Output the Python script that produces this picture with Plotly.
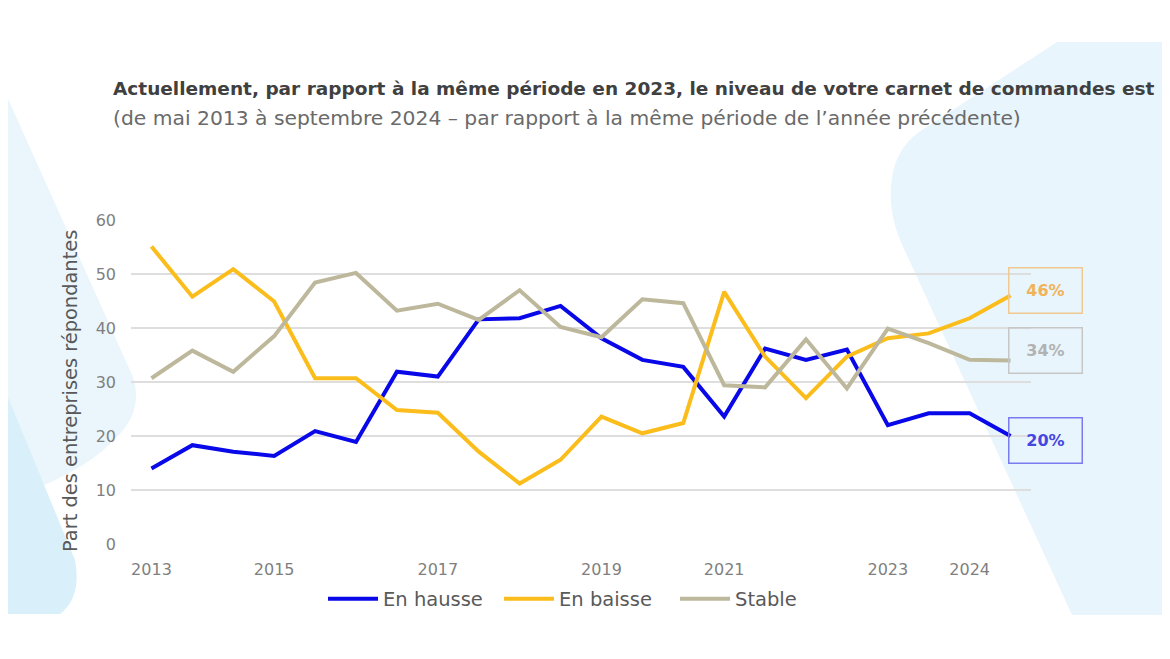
import plotly.graph_objects as go

# ---- data ----
waves = [f"V{i:02d}" for i in range(1, 23)]
tick_waves = ["V01", "V04", "V08", "V12", "V15", "V19", "V21"]
tick_years = ["2013", "2015", "2017", "2019", "2021", "2023", "2024"]

en_hausse = [14.0, 18.3, 17.1, 16.3, 20.9, 18.9, 31.9, 31.0, 41.6, 41.8, 44.1,
             38.1, 34.1, 32.8, 23.6, 36.2, 34.1, 36.0, 22.0, 24.2, 24.2, 20.0]
en_baisse = [55.1, 45.8, 50.9, 44.9, 30.7, 30.7, 24.8, 24.3, 17.1, 11.2, 15.6,
             23.6, 20.5, 22.4, 46.7, 34.7, 27.0, 34.7, 38.1, 39.0, 41.8, 46.0]
stable = [30.7, 35.8, 31.9, 38.5, 48.4, 50.2, 43.2, 44.5, 41.5, 47.0, 40.2,
          38.3, 45.3, 44.6, 29.4, 29.0, 37.9, 28.8, 39.9, 37.2, 34.1, 34.0]

series = [
    ("En hausse", en_hausse, "#0808e8", "#4646e0", "#7b7bf0", -4),
    ("En baisse", en_baisse, "#fbbd1c", "#f0b35a", "#efc98f", 5),
    ("Stable", stable, "#bdb89c", "#b2b2b2", "#c6c6c6", 10),
]

FONT = "DejaVu Sans"

# page offset (body margin) and plot-area geometry in screen pixels
OFF = 8
W, H = 1170 - OFF, 659 - OFF
L, R, T, B = 131, 1031, 220, 544


def px(x):
    return (x - L) / (R - L)


def py(y):
    return (B - y) / (B - T)


def path(points_cmds):
    out = []
    for cmd, pts in points_cmds:
        coords = " ".join(f"{px(a):.5f},{py(b):.5f}" for a, b in pts)
        out.append(f"{cmd} {coords}")
    return " ".join(out) + " Z"


fig = go.Figure()

for name, vals, col, _, _, _ in series:
    fig.add_trace(go.Scatter(
        x=waves, y=vals, name=name, mode="lines",
        line=dict(color=col, width=4),
        hoverinfo="skip",
    ))

# background decorations
shapes = [
    dict(type="path", xref="paper", yref="paper", layer="below",
         path=path([("M", [(5, 92)]), ("L", [(133, 377)]),
                    ("Q", [(145, 412), (112, 442)]),
                    ("Q", [(80, 475), (5, 500)])]),
         fillcolor="#eaf6fc", line=dict(width=0)),
    dict(type="path", xref="paper", yref="paper", layer="below",
         path=path([("M", [(5, 390)]), ("L", [(75, 560)]),
                    ("Q", [(82, 597), (60, 614)]), ("L", [(5, 614)])]),
         fillcolor="#d9f0fa", line=dict(width=0)),
    dict(type="path", xref="paper", yref="paper", layer="below",
         path=path([("M", [(1072, 615)]), ("L", [(900, 240)]),
                    ("Q", [(886, 205), (893, 172)]),
                    ("Q", [(899, 145), (922, 130)]),
                    ("L", [(1057, 42)]), ("L", [(1163, 42)]),
                    ("L", [(1163, 615)])]),
         fillcolor="#e9f5fc", line=dict(width=0)),
]

annotations = [
    dict(xref="paper", yref="paper", x=px(111), y=py(88), xanchor="left",
         yanchor="middle", showarrow=False,
         text="<b>Actuellement, par rapport à la même période en 2023, le niveau de votre carnet de commandes est</b>",
         font=dict(family=FONT, size=18.5, color="#404040")),
    dict(xref="paper", yref="paper", x=px(111), y=py(118), xanchor="left",
         yanchor="middle", showarrow=False,
         text="(de mai 2013 à septembre 2024 – par rapport à la même période de l’année précédente)",
         font=dict(family=FONT, size=20.3, color="#6a6a6a")),
    dict(xref="paper", yref="paper", x=px(70), y=py(391), xanchor="center",
         yanchor="middle", showarrow=False, textangle=-90,
         text="Part des entreprises répondantes",
         font=dict(family=FONT, size=19.4, color="#595959")),
]

for name, vals, col, tcol, bcol, ys in series:
    annotations.append(dict(
        x=waves[-1], y=vals[-1], xref="x", yref="y",
        xanchor="left", yanchor="middle", xshift=-3, yshift=ys,
        showarrow=False, text=f"<b>{round(vals[-1])}%</b>",
        width=62, height=34, borderpad=5, borderwidth=1.5,
        bordercolor=bcol, bgcolor="rgba(0,0,0,0)",
        font=dict(family=FONT, size=16, color=tcol),
    ))

fig.update_layout(
    width=W, height=H,
    margin=dict(l=L - OFF, r=W - (R - OFF), t=T - OFF, b=H - (B - OFF)),
    paper_bgcolor="white", plot_bgcolor="rgba(0,0,0,0)",
    font=dict(family=FONT, color="#808080"),
    showlegend=True,
    legend=dict(orientation="h", x=px(323), y=py(599), xanchor="left",
                yanchor="middle", font=dict(family=FONT, size=19.5, color="#595959"),
                bgcolor="rgba(0,0,0,0)", itemwidth=50, tracegroupgap=0,
                entrywidth=111, entrywidthmode="pixels"),
    shapes=shapes,
    annotations=annotations,
    xaxis=dict(type="category", categoryorder="array", categoryarray=waves,
               range=[-0.5, len(waves) - 0.5],
               tickmode="array", tickvals=tick_waves, ticktext=tick_years,
               showgrid=False, showline=False, zeroline=False,
               ticks="", ticklabelstandoff=14,
               tickfont=dict(family=FONT, size=16, color="#7f7f7f")),
    yaxis=dict(range=[0, 60], tickvals=[0, 10, 20, 30, 40, 50, 60],
               showgrid=True, gridcolor="#dedede", gridwidth=1.5,
               showline=False, zeroline=False, ticks="",
               ticklabelstandoff=14,
               tickfont=dict(family=FONT, size=16, color="#7f7f7f")),
)

fig.write_html("out.html")
